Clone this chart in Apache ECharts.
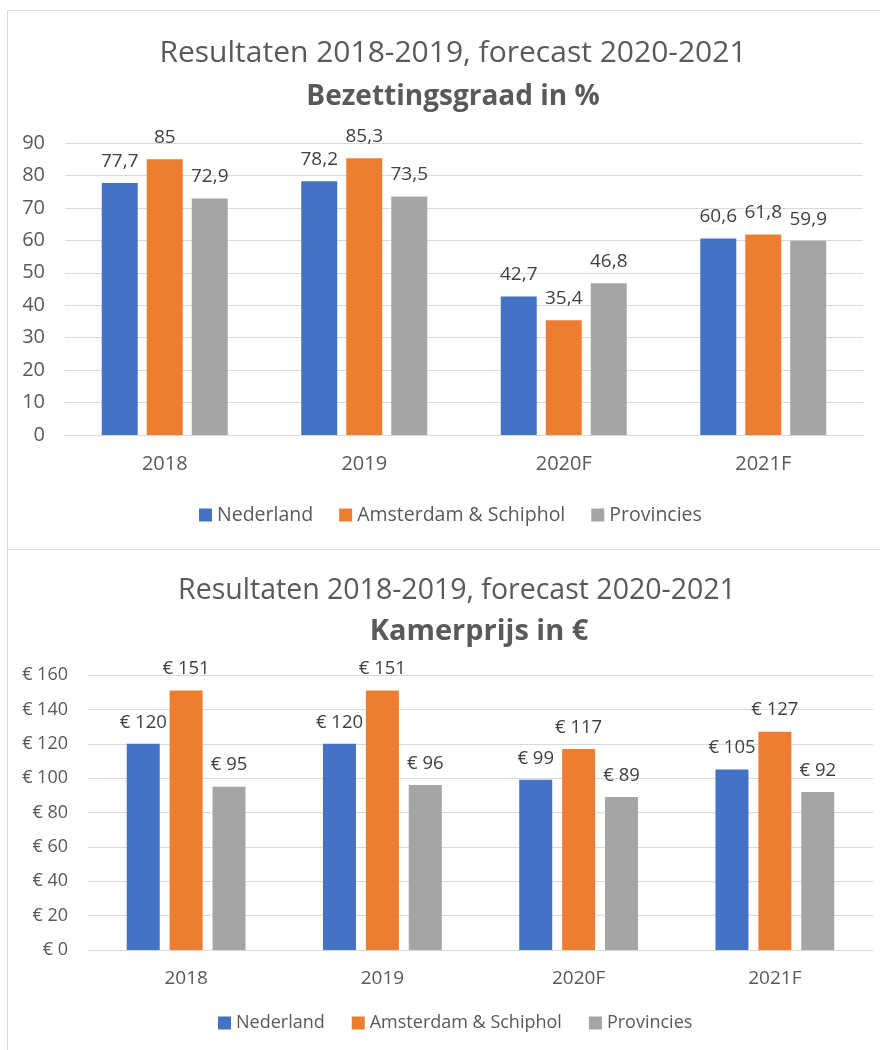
<!DOCTYPE html>
<html>
<head>
<meta charset="utf-8">
<script src="https://cdn.jsdelivr.net/npm/echarts@6/dist/echarts.min.js"></script>
<style>
  html, body { margin: 0; padding: 0; background: #ffffff; }
  #chart { width: 880px; height: 1050px; }
</style>
</head>
<body>
<div id="chart"></div>
<script>
// Categories shared by both panels
const categories = ['2018', '2019', '2020F', '2021F'];
const seriesNames = ['Nederland', 'Amsterdam & Schiphol', 'Provincies'];

// Bezettingsgraad in %
const occNederland  = [77.7, 78.2, 42.7, 60.6];
const occAmsterdam  = [85, 85.3, 35.4, 61.8];
const occProvincies = [72.9, 73.5, 46.8, 59.9];

// Kamerprijs in €
const priceNederland  = [120, 120, 99, 105];
const priceAmsterdam  = [151, 151, 117, 127];
const priceProvincies = [95, 96, 89, 92];

// Axis ranges
const occAxis   = { min: 0, max: 90,  interval: 10 };
const priceAxis = { min: 0, max: 160, interval: 20 };

const colors = ['#4472C4', '#ED7D31', '#A5A5A5'];
const FONT = 'Open Sans';
const TXT = '#595959';

const fmtPct = v => String(v).replace('.', ',');
const fmtEur = v => '€ ' + String(v).replace('.', ',');

const chart = echarts.init(document.getElementById('chart'), null, { renderer: 'canvas' });

function barSeries(name, data, axisIdx, color, width, gap, fmt, fontSize, dist) {
  return {
    name: name,
    type: 'bar',
    xAxisIndex: axisIdx,
    yAxisIndex: axisIdx,
    data: data,
    barWidth: width,
    barGap: gap,
    itemStyle: { color: color },
    label: {
      show: true,
      position: 'top',
      distance: dist,
      color: '#404040',
      fontFamily: FONT,
      fontSize: fontSize,
      formatter: p => fmt(p.value)
    },
    emphasis: { disabled: true },
    animation: false
  };
}

const option = {
  animation: false,
  textStyle: { fontFamily: FONT },
  graphic: [
    { type: 'rect', shape: { x: 7.5, y: 10.5, width: 900, height: 539 },
      style: { fill: 'none', stroke: '#d9d9d9', lineWidth: 1 }, silent: true },
    { type: 'rect', shape: { x: 7.5, y: 549.5, width: 900, height: 600 },
      style: { fill: 'none', stroke: '#d9d9d9', lineWidth: 1 }, silent: true }
  ],
  title: [
    { text: 'Resultaten 2018-2019, forecast 2020-2021', left: 448, top: 33, textAlign: 'center',
      textStyle: { fontFamily: FONT, fontSize: 30, fontWeight: 'normal', color: TXT } },
    { text: 'Bezettingsgraad in %', left: 448, top: 78, textAlign: 'center',
      textStyle: { fontFamily: FONT, fontSize: 28, fontWeight: 'bold', color: TXT } },
    { text: 'Resultaten 2018-2019, forecast 2020-2021', left: 452, top: 571, textAlign: 'center',
      textStyle: { fontFamily: FONT, fontSize: 28.5, fontWeight: 'normal', color: TXT } },
    { text: 'Kamerprijs in €', left: 474, top: 612, textAlign: 'center',
      textStyle: { fontFamily: FONT, fontSize: 29, fontWeight: 'bold', color: TXT } }
  ],
  legend: [
    { data: seriesNames, left: 194, top: 500, itemWidth: 13, itemHeight: 13, itemGap: 26,
      icon: 'rect', textStyle: { fontFamily: FONT, fontSize: 19.5, color: TXT } },
    { data: seriesNames, left: 213, top: 1009, itemWidth: 13, itemHeight: 13, itemGap: 27,
      icon: 'rect', textStyle: { fontFamily: FONT, fontSize: 18, color: TXT } }
  ],
  grid: [
    { left: 65, top: 143, width: 798, height: 292, containLabel: false },
    { left: 88, top: 675, width: 785, height: 275, containLabel: false }
  ],
  xAxis: [
    { type: 'category', gridIndex: 0, data: categories,
      axisLine: { lineStyle: { color: '#d9d9d9' } }, axisTick: { show: false },
      axisLabel: { color: TXT, fontFamily: FONT, fontSize: 20, margin: 19 } },
    { type: 'category', gridIndex: 1, data: categories,
      axisLine: { lineStyle: { color: '#d9d9d9' } }, axisTick: { show: false },
      axisLabel: { color: TXT, fontFamily: FONT, fontSize: 19, margin: 19 } }
  ],
  yAxis: [
    { type: 'value', gridIndex: 0, min: occAxis.min, max: occAxis.max, interval: occAxis.interval,
      axisLine: { show: false }, axisTick: { show: false },
      splitLine: { lineStyle: { color: '#d9d9d9' } },
      axisLabel: { color: TXT, fontFamily: FONT, fontSize: 20, margin: 20 } },
    { type: 'value', gridIndex: 1, min: priceAxis.min, max: priceAxis.max, interval: priceAxis.interval,
      axisLine: { show: false }, axisTick: { show: false },
      splitLine: { lineStyle: { color: '#d9d9d9' } },
      axisLabel: { color: TXT, fontFamily: FONT, fontSize: 18, margin: 20, formatter: v => fmtEur(v) } }
  ],
  series: [
    barSeries(seriesNames[0], occNederland,  0, colors[0], 36, '25%', fmtPct, 19, 12),
    barSeries(seriesNames[1], occAmsterdam,  0, colors[1], 36, '25%', fmtPct, 19, 12),
    barSeries(seriesNames[2], occProvincies, 0, colors[2], 36, '25%', fmtPct, 19, 12),
    barSeries(seriesNames[0], priceNederland,  1, colors[0], 33, '30%', fmtEur, 18.5, 12),
    barSeries(seriesNames[1], priceAmsterdam,  1, colors[1], 33, '30%', fmtEur, 18.5, 12),
    barSeries(seriesNames[2], priceProvincies, 1, colors[2], 33, '30%', fmtEur, 18.5, 12)
  ]
};

chart.setOption(option);
</script>
</body>
</html>
